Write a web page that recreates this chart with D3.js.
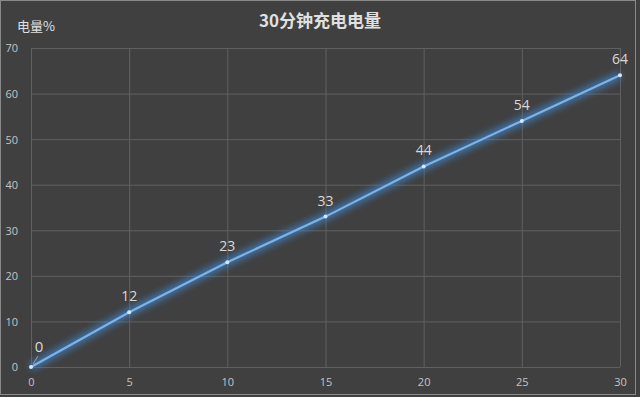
<!DOCTYPE html>
<html lang="zh">
<head>
<meta charset="UTF-8">
<title>30分钟充电电量</title>
<script src="https://cdn.jsdelivr.net/npm/d3@7/dist/d3.min.js"></script>
<style>
    body { margin: 0; background: #404040; }
    svg { display: block; font-family: "Noto Sans CJK SC", "Open Sans", sans-serif; }
</style>
</head>
<body>
<svg id="chart" width="640" height="397"></svg>
<script>
    const minutes = [0, 5, 10, 15, 20, 25, 30];
    const charge = [0, 12, 23, 33, 44, 54, 64];
    const xTicks = [0, 5, 10, 15, 20, 25, 30];
    const yTicks = [0, 10, 20, 30, 40, 50, 60, 70];

    const svg = d3.select('#chart');
    const W = 640, H = 397;
    const padL = 31, padR = 620, padT = 48, padB = 367;

    svg.append('rect').attr('width', W).attr('height', H).attr('fill', '#404040');
    // thin frame round the picture
    svg.append('rect').attr('x', 0.5).attr('y', 0.5).attr('width', W - 5).attr('height', H - 3)
        .attr('fill', 'none').attr('stroke', '#8a8a8a').attr('stroke-width', 1);

    const x = d3.scaleLinear().domain([0, 30]).range([padL, padR]);
    const y = d3.scaleLinear().domain([0, 70]).range([padB, padT]);

    // grid
    svg.append('g').selectAll('line').data(yTicks).join('line')
        .attr('x1', padL).attr('x2', padR)
        .attr('y1', d => y(d) + 0.5).attr('y2', d => y(d) + 0.5)
        .attr('stroke', '#606060');
    svg.append('g').selectAll('line').data(xTicks).join('line')
        .attr('x1', d => x(d) + 0.5).attr('x2', d => x(d) + 0.5)
        .attr('y1', padT).attr('y2', padB)
        .attr('stroke', '#606060');

    // axes labels
    const xAxis = svg.append('g').attr('transform', `translate(0,${padB + 8})`)
        .call(d3.axisBottom(x).tickValues(xTicks).tickSize(0));
    const yAxis = svg.append('g').attr('transform', `translate(${padL - 10},0)`)
        .call(d3.axisLeft(y).tickValues(yTicks).tickSize(0));
    [xAxis, yAxis].forEach(a => {
        a.select('.domain').remove();
        a.selectAll('text').attr('fill', '#c4c4c4').style('font-size', '11px')
            .style('font-family', '"Open Sans", sans-serif');
    });
    yAxis.selectAll('text').attr('dy', '0.35em');

    // title and axis name
    svg.append('text').attr('x', 320).attr('y', 27).attr('text-anchor', 'middle')
        .attr('fill', '#e0e0e0').style('font-size', '17px').style('font-weight', 'bold')
        .text('30分钟充电电量');
    svg.append('text').attr('x', 17).attr('y', 31)
        .attr('fill', '#e0e0e0').style('font-size', '13px')
        .text('电量%');

    // glow
    const defs = svg.append('defs');
    const f = defs.append('filter').attr('id', 'glow')
        .attr('x', '-10%').attr('y', '-10%').attr('width', '120%').attr('height', '120%');
    f.append('feGaussianBlur').attr('stdDeviation', 3.5);

    const pts = minutes.map((d, i) => [d, charge[i]]);
    const line = d3.line().x(d => x(d[0])).y(d => y(d[1]));

    svg.append('path').datum(pts).attr('d', line)
        .attr('fill', 'none').attr('stroke', '#3f8fe0').attr('stroke-width', 7)
        .attr('stroke-opacity', 0.75).attr('filter', 'url(#glow)');
    svg.append('path').datum(pts).attr('d', line)
        .attr('fill', 'none').attr('stroke', '#7cb3e8').attr('stroke-width', 2.2);

    svg.append('g').selectAll('circle').data(pts).join('circle')
        .attr('cx', d => x(d[0])).attr('cy', d => y(d[1])).attr('r', 2)
        .attr('fill', '#d2e8ff');

    // value labels
    svg.append('g').selectAll('text').data(pts.slice(1)).join('text')
        .attr('x', d => x(d[0])).attr('y', d => y(d[1]) - 11)
        .attr('text-anchor', 'middle').attr('fill', '#d9d9d9')
        .style('font-size', '14px').style('font-family', '"Open Sans", sans-serif')
        .text(d => d[1]);
    // the 0 label sits off the point with a leader line
    svg.append('line').attr('x1', x(0) + 2).attr('y1', y(0) - 3)
        .attr('x2', x(0) + 7).attr('y2', y(0) - 11)
        .attr('stroke', '#a0a0a0').attr('stroke-width', 1);
    svg.append('text').attr('x', x(0) + 8).attr('y', y(0) - 15)
        .attr('text-anchor', 'middle').attr('fill', '#d9d9d9')
        .style('font-size', '15px').style('font-family', '"Open Sans", sans-serif')
        .text(charge[0]);
</script>
</body>
</html>
